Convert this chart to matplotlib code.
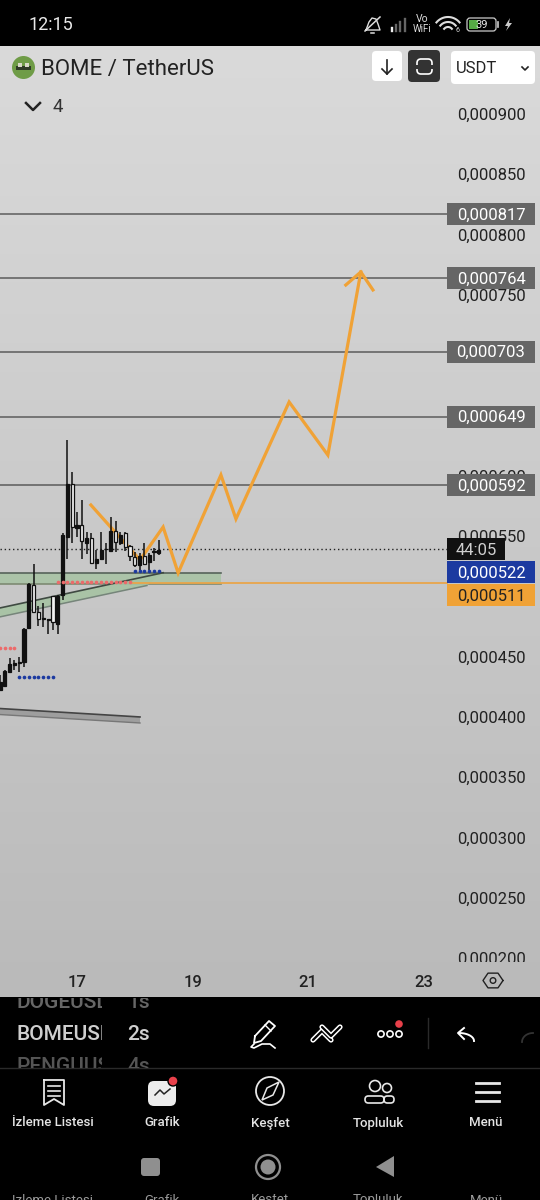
import numpy as np
import matplotlib
matplotlib.use('Agg')
import matplotlib.pyplot as plt
from matplotlib.colors import LinearSegmentedColormap
from matplotlib.patches import Rectangle, FancyBboxPatch, Circle, Polygon
from matplotlib.transforms import blended_transform_factory

plt.rcParams['font.family'] = ['Roboto', 'DejaVu Sans']

# prices are in millionths of USDT
highs = [434.9, 439.0, 448.7, 447.3, 449.5, 473.5, 510.9, 526.6, 492.3, 494.8, 481.3, 500.6,
         501.2, 552.3, 629.7, 602.9, 569.7, 580.0, 553.7, 552.3, 538.5, 553.7, 544.6, 565.6,
         562.5, 553.7, 553.7, 542.6, 537.1, 535.7, 544.0, 536.3, 539.9, 546.8]
lows = [421.9, 425.2, 436.8, 439.0, 437.6, 441.8, 473.0, 486.0, 475.8, 474.9, 468.8, 472.2,
        468.8, 497.0, 531.0, 544.0, 549.6, 531.0, 534.9, 526.6, 522.7, 530.2, 526.9, 537.7,
        537.1, 542.6, 537.9, 529.4, 524.7, 521.9, 526.1, 521.9, 529.7, 534.3]
body_top = [429.3, 438.4, 443.7, 444.5, 445.9, 473.0, 510.3, 509.5, 487.4, 481.8, 481.0, 500.4,
            500.6, 550.9, 592.9, 592.9, 559.5, 559.5, 548.7, 548.7, 530.8, 538.5, 539.3, 554.5,
            554.5, 550.7, 552.9, 541.8, 532.7, 533.5, 533.5, 534.3, 537.4, 538.5]
body_bot = [422.4, 425.7, 437.6, 443.1, 444.5, 445.9, 473.5, 486.8, 481.0, 481.0, 480.5, 479.1,
            476.9, 501.2, 549.6, 557.3, 556.5, 546.2, 544.6, 527.4, 527.4, 530.8, 539.0, 537.7,
            544.9, 544.6, 540.7, 533.8, 526.3, 526.1, 526.9, 528.8, 536.8, 535.7]
hollow = [7, 8, 11, 15, 17, 19, 24, 26, 27, 28, 30]
first_day = 15.667
candles_per_day = 12

levels = [817, 764, 703, 649, 592]
last_price = 539
alarm_price = 511
zone_top, zone_bot = 519.3, 510.0

path_days = [17.24, 18.09, 18.49, 18.75, 19.49, 19.75, 20.67, 21.34, 21.91]
path_prices = [575.8, 530.2, 557.5, 519.4, 600.7, 564.2, 661.2, 617.2, 769.0]
head_days = [21.65, 21.91, 22.12]
head_prices = [758.2, 769.0, 754.1]

channel_days = [15.668, 18.49, 18.21, 15.668]
channel_prices = [490.4, 519.6, 509.0, 483.0]
lower_days = [15.668, 18.09, 18.09, 15.668]
lower_prices = [407.0, 400.0, 395.0, 402.0]

red_a = list(range(12, 28))
red_b = list(range(0, 4))
blue_a = list(range(4, 12))
blue_b = list(range(28, 34))

shown_ticks = [900, 850, 800, 750, 600, 550, 450, 400, 350, 300, 250, 200]
day_ticks = [17, 19, 21, 23]

nav_labels = ['İzleme Listesi', 'Grafik', 'Keşfet', 'Topluluk', 'Menü']
nav_x = [53, 162, 270, 378, 486]

W, H = 540, 1200
fig = plt.figure(figsize=(W / 100, H / 100), dpi=100, facecolor='black')


def px_axes(top, bottom, **kw):
    return fig.add_axes([0, (H - bottom) / H, 1, (bottom - top) / H], **kw)


ax = px_axes(46, 962)
for s in ax.spines.values():
    s.set_visible(False)

# fondo gris con degradado
grad = np.linspace(0, 1, 256).reshape(-1, 1)
ax.imshow(grad, cmap=LinearSegmentedColormap.from_list('bg', ['#dadada', '#bbbbbb']),
          extent=[0, 1, 0, 1], transform=ax.transAxes, aspect='auto', zorder=0)
ax.set_xlim(15.668, 25.01)
ax.set_ylim(196.8, 956.4)

ax.yaxis.tick_right()
ax.set_yticks(shown_ticks)
ax.set_yticklabels([f'0,000{t}' for t in shown_ticks])
ax.tick_params(axis='y', length=0, pad=-59.8, labelsize=12, labelcolor='#222222')
ax.set_xticks([])

# lineas horizontales hasta la etiqueta
tr = blended_transform_factory(ax.transAxes, ax.transData)
line_end = 447 / W
for lv in levels:
    ax.plot([0, line_end], [lv, lv], transform=tr, color='#5c5c5c', lw=1.1, zorder=2)
ax.plot([0, line_end], [last_price, last_price], transform=tr, color='#222222', lw=1,
        linestyle=(0, (1, 2)), zorder=2)

# zona verde y canales
ax.add_patch(Rectangle((15.668, zone_bot), 19.49 - 15.668, zone_top - zone_bot, fc='#a6c3a3',
                       ec='none', alpha=0.85, zorder=1.5))
ax.plot([15.668, 19.49], [zone_top, zone_top], color='#56635a', lw=1.2, zorder=1.6)
ax.plot([15.668, 19.49], [zone_bot, zone_bot], color='#7d8a72', lw=1.2, zorder=1.6)
ax.add_patch(Polygon(list(zip(channel_days, channel_prices)), fc='#a6c3a3', ec='none', alpha=0.9, zorder=1.7))
ax.plot(channel_days[:2], channel_prices[:2], color='#3f4a42', lw=1.2, zorder=1.8)
ax.plot(channel_days[2:], channel_prices[2:], color='#76857a', lw=1.1, zorder=1.8)
ax.add_patch(Polygon(list(zip(lower_days, lower_prices)), fc='#9e9e9e', ec='none', zorder=1.7))
ax.plot(lower_days[:2], lower_prices[:2], color='#444444', lw=1.2, zorder=1.8)
ax.plot(lower_days[2:], lower_prices[2:], color='#777777', lw=1, zorder=1.8)
ax.plot([17.97, 23.4], [alarm_price, alarm_price], color='#e9a54a', lw=1.3, zorder=1.9)

# dibujo naranja, queda debajo de las velas
ax.plot(path_days, path_prices, color='#f0a236', lw=2.3, solid_joinstyle='miter', zorder=2.9)
ax.plot(head_days, head_prices, color='#f0a236', lw=2.3, solid_joinstyle='miter', zorder=2.9)

# velas
idx = np.arange(len(highs))
days = first_day + idx / candles_per_day
ax.vlines(days, lows, highs, color='#111111', lw=1.1, zorder=3)
tops = np.array(body_top)
bots = np.array(body_bot)
colors = ['#f2f2f2' if i in hollow else '#111111' for i in idx]
ax.bar(days, np.maximum(tops - bots, 0.6), bottom=bots, width=0.055, color=colors,
       edgecolor='#111111', linewidth=0.9, zorder=3.1)


# puntos
def dots(ids, price, color):
    ids = np.array(ids)
    ax.scatter(first_day + ids / candles_per_day, [price] * len(ids), s=7, color=color, lw=0, zorder=3.2)


dots(red_a, 512.0, '#ec6a6a')
dots(red_b, 457.2, '#ec6a6a')
dots(blue_a, 433.2, '#1c3aa0')
dots(blue_b, 521.0, '#1c3aa0')


# etiquetas de precio
def tag(center, text, fc, tc, x1=535):
    h = 22 * 0.8292
    ax.add_patch(Rectangle((447 / W, center - h / 2), (x1 - 447) / W, h, transform=tr, fc=fc, ec='none', zorder=5))
    ax.text((447 + x1) / 2 / W, center - 0.8, text, transform=tr, ha='center', va='center', color=tc,
            fontsize=12, zorder=6)


for lv in levels:
    tag(lv, f'0,000{lv}', '#666666', 'white')
tag(900 - (549.5 - 114) * 0.8292, '44:05', '#111111', '#cfcfcf', x1=505)
tag(900 - (572 - 114) * 0.8292, '0,000522', '#1c3aa0', 'white')
tag(900 - (595 - 114) * 0.8292, '0,000511', '#f0a236', '#222222')

# banda de tiempo
ax_t = px_axes(962, 997, zorder=5)
ax_t.set_facecolor('#bababa')
ax_t.set_xlim(15.668, 25.01)
ax_t.set_yticks([])
ax_t.set_xticks(day_ticks)
ax_t.tick_params(axis='x', length=0, pad=-15.5, labelsize=12, labelcolor='#222222')
for lab in ax_t.get_xticklabels():
    lab.set_fontweight('medium')
for s in ax_t.spines.values():
    s.set_visible(False)

# interfaz en pixeles
ui = fig.add_axes([0, 0, 1, 1], zorder=6)
ui.set_xlim(0, W)
ui.set_ylim(H, 0)
ui.axis('off')
ui.patch.set_alpha(0)

ui.add_patch(Rectangle((0, 0), W, 45, fc='black', ec='none'))
ui.add_patch(Rectangle((0, 997), W, 203, fc='black', ec='none'))
ui.text(28, 25, '12:15', color='#e8e8e8', fontsize=13, va='center')

# barra de estado
ui.plot([365, 380], [31, 17], color='#dddddd', lw=1.1)
ui.plot([366, 369, 372, 376, 378, 380, 366], [30, 22, 18, 19, 24, 30, 30], color='#dddddd', lw=1)
ui.plot([371, 374], [33, 33], color='#dddddd', lw=1.1)
for i, x in enumerate([388, 392, 396, 400, 405]):
    ui.plot([x, x], [31 - i * 3, 31], color='#eeeeee' if i < 2 else '#666666', lw=1.7)
ui.text(422, 19, 'Vo', color='#dddddd', fontsize=7.5, ha='center', va='center')
ui.text(422, 29, 'WiFi', color='#dddddd', fontsize=7, ha='center', va='center')
th = np.linspace(np.pi * 1.22, np.pi * 1.78, 20)
for r in [5, 10, 15]:
    ui.plot(448 + r * np.cos(th), 32 + r * np.sin(th), color='#dddddd', lw=1.5)
ui.text(457, 30, '6', color='#dddddd', fontsize=5, ha='center', va='center')
ui.add_patch(FancyBboxPatch((467, 18), 29, 13, boxstyle='round,pad=0,rounding_size=3', fc='none', ec='#cccccc', lw=0.9))
ui.add_patch(Rectangle((469, 20), 9, 9, fc='#55aa44', ec='none'))
ui.plot([498, 498], [22, 27], color='#cccccc', lw=1.2)
ui.text(482, 24.5, '39', color='#e8e8e8', fontsize=8, ha='center', va='center')
ui.add_patch(Polygon([(510, 18), (505, 26), (508, 26), (506, 31), (512, 23), (509, 23)], fc='#cccccc', ec='none'))

# cabecera
ui.add_patch(Circle((23.5, 67.5), 11.5, fc='#6f9c47', ec='none'))
ui.add_patch(Rectangle((16, 66), 15, 4, fc='#2f3a26', ec='none'))
ui.add_patch(Rectangle((18, 62.5), 4, 4, fc='#d8d8c8', ec='none'))
ui.add_patch(Rectangle((25, 62.5), 4, 4, fc='#d8d8c8', ec='none'))
ui.text(41, 69, 'BOME / TetherUS', color='#222222', fontsize=16, va='center')
ui.plot([26, 33, 40], [103, 110, 103], color='#222222', lw=1.8)
ui.text(53, 107, '4', color='#333333', fontsize=13.5, va='center')
ui.add_patch(FancyBboxPatch((372, 51), 30, 30, boxstyle='round,pad=0,rounding_size=4', fc='white', ec='none'))
ui.plot([387, 387], [60, 74], color='#222222', lw=1.2)
ui.plot([382, 387, 392], [69, 74, 69], color='#222222', lw=1.2)
ui.add_patch(FancyBboxPatch((408, 50), 32, 32, boxstyle='round,pad=0,rounding_size=4', fc='#333333', ec='none'))
ui.add_patch(FancyBboxPatch((417, 59), 15, 15, boxstyle='round,pad=0,rounding_size=4', fc='none', ec='white', lw=1.2))
ui.add_patch(Rectangle((414, 64.5), 21, 4, fc='#333333', ec='none'))
ui.add_patch(FancyBboxPatch((451, 51), 84, 33, boxstyle='round,pad=0,rounding_size=4', fc='white', ec='none'))
ui.text(456, 68.5, 'USDT', color='#222222', fontsize=12, va='center')
ui.plot([522, 525, 528], [67, 70, 67], color='#222222', lw=1.2)

# hexagono del eje de tiempo
hex_t = np.linspace(0, 2 * np.pi, 7)
ui.plot(493 + 10 * np.cos(hex_t), 980.5 + 8.5 * np.sin(hex_t), color='#222222', lw=1)
ui.add_patch(Circle((493, 980.5), 2.8, fc='none', ec='#222222', lw=1))


# barra de simbolos (texto cortado)
def clipped(x, y, text, color, size, box, weight='normal', ha='left'):
    t = ui.text(x, y, text, color=color, fontsize=size, va='center', ha=ha, fontweight=weight, clip_on=True)
    t.set_clip_path(Rectangle((box[0], box[1]), box[2], box[3], transform=ui.transData))


clipped(16, 1002, 'DOGEUSDT', '#666666', 15, (0, 998, 102, 30), 'medium')
clipped(127, 1002, '1s', '#666666', 15, (110, 998, 40, 30), 'medium')
clipped(16, 1034, 'BOMEUSDT', '#cfcfcf', 15, (0, 1015, 102, 36), 'medium')
clipped(127, 1034, '2s', '#cfcfcf', 15, (110, 1015, 40, 36), 'medium')
clipped(16, 1066, 'PENGUUSDT', '#555555', 15, (0, 1050, 102, 18), 'medium')
clipped(127, 1066, '4s', '#555555', 15, (110, 1050, 40, 18), 'medium')
ui.plot([0, W], [1068, 1068], color='#2a2a2a', lw=1)

# herramientas
ui.plot([255, 269, 275, 261, 254, 255], [1036, 1021, 1026, 1041, 1043, 1036], color='white', lw=1.3)
ui.plot([265, 271], [1025, 1031], color='white', lw=1)
ui.plot([254, 251, 254, 262, 270, 275], [1044, 1047, 1048, 1044, 1044, 1048], color='white', lw=1.2)
for pts_x, pts_y in [([313, 322, 331], [1040, 1031, 1040]), ([322, 331, 340], [1027, 1036, 1027])]:
    ui.plot(pts_x, pts_y, color='white', lw=3.8, solid_capstyle='round')
    ui.plot(pts_x, pts_y, color='black', lw=1.6, solid_capstyle='round')
for x in [381, 390, 399]:
    ui.add_patch(Circle((x, 1034), 3.1, fc='none', ec='white', lw=1.2))
ui.add_patch(Circle((399, 1024), 3.8, fc='#e8404a', ec='none'))
ui.plot([428, 428], [1018, 1048], color='#2a2a2a', lw=1)
ui.plot([464, 458, 464], [1028, 1033, 1039], color='white', lw=1.4)
arc = np.linspace(-np.pi / 2, 0, 15)
ui.plot(459 + 15 * np.cos(arc), 1041 + 8 * np.sin(arc), color='white', lw=1.4)
arc2 = np.linspace(np.pi, np.pi * 1.5, 10)
ui.plot(533 + 11 * np.cos(arc2), 1042 + 9 * np.sin(arc2), color='#333333', lw=1.3)

# navegacion inferior
for lab, x in zip(nav_labels, nav_x):
    ui.text(x, 1123, lab, color='#e4e4e4', fontsize=9.5, ha='center', va='center', fontweight='medium')
    clipped(x, 1200, lab, '#9a9a9a', 9.5, (0, 1194, W, 6), ha='center')

ui.plot([44, 44, 54, 64, 64, 44], [1080, 1105, 1099, 1105, 1080, 1080], color='#e8e8e8', lw=1.3)
for y in [1086, 1091, 1096]:
    ui.plot([48, 60], [y, y], color='#e8e8e8', lw=1.2)

ui.add_patch(FancyBboxPatch((148, 1081), 28, 25, boxstyle='round,pad=0,rounding_size=6', fc='#ececec', ec='none'))
ui.plot([155, 160, 164, 170], [1095, 1090, 1094, 1089], color='#222222', lw=1.1)
ui.add_patch(Circle((173, 1081), 5, fc='#e8404a', ec='black', lw=1))

ui.add_patch(Circle((270, 1091), 14, fc='none', ec='#e8e8e8', lw=1.3))
ui.add_patch(Polygon([(279, 1082), (273, 1095), (262, 1100), (267, 1088)], fc='none', ec='#e8e8e8', lw=1.1))

ui.add_patch(Circle((375, 1086), 5.5, fc='none', ec='#e8e8e8', lw=1.2))
ui.add_patch(Circle((387, 1088), 4.5, fc='none', ec='#e8e8e8', lw=1.2))
ui.add_patch(FancyBboxPatch((365, 1096), 19, 7, boxstyle='round,pad=0,rounding_size=3.4', fc='none', ec='#e8e8e8', lw=1.2))
ui.add_patch(FancyBboxPatch((384, 1096), 10, 7, boxstyle='round,pad=0,rounding_size=3.4', fc='none', ec='#e8e8e8', lw=1.2))

for y in [1083, 1092, 1101]:
    ui.plot([476, 499], [y, y], color='#e8e8e8', lw=2)

ui.add_patch(FancyBboxPatch((141, 1158), 19, 18, boxstyle='round,pad=0,rounding_size=3', fc='#8f8f8f', ec='none'))
ui.add_patch(Circle((268, 1167), 12, fc='none', ec='#8f8f8f', lw=1.6))
ui.add_patch(Circle((268, 1167), 7.5, fc='#8f8f8f', ec='none'))
ui.add_patch(Polygon([(394, 1156), (394, 1177), (376, 1167)], fc='#8f8f8f', ec='none'))

fig.savefig('out.png', dpi=100, facecolor='black')
